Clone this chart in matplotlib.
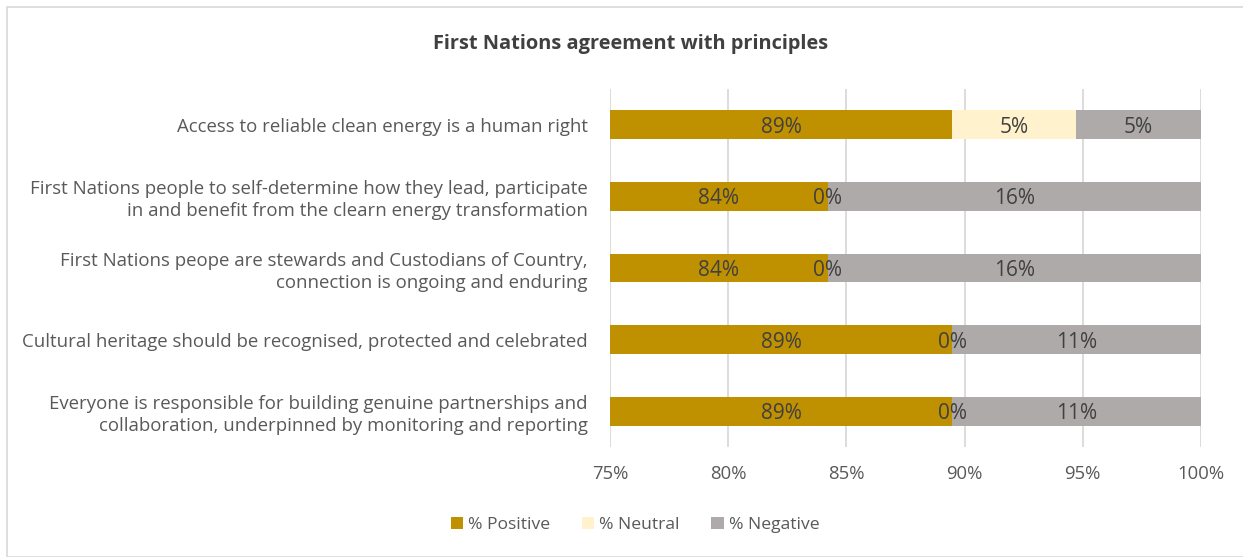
import matplotlib.pyplot as plt
import numpy as np
from matplotlib.patches import Rectangle

categories = [
    "Access to reliable clean energy is a human right",
    "First Nations people to self-determine how they lead, participate\nin and benefit from the clearn energy transformation",
    "First Nations peope are stewards and Custodians of Country,\nconnection is ongoing and enduring",
    "Cultural heritage should be recognised, protected and celebrated",
    "Everyone is responsible for building genuine partnerships and\ncollaboration, underpinned by monitoring and reporting",
]
positive = [89.47, 84.21, 84.21, 89.47, 89.47]
neutral = [5.26, 0.0, 0.0, 0.0, 0.0]
negative = [5.26, 15.79, 15.79, 10.53, 10.53]
xticks = [75, 80, 85, 90, 95, 100]

c_pos = "#BF9000"
c_neu = "#FFF2CC"
c_neg = "#AEAAAA"
txt = "#404040"

plt.rcParams['font.family'] = ['Open Sans', 'DejaVu Sans']

fig = plt.figure(figsize=(12.43, 5.57), dpi=100)
ax = fig.add_axes([610 / 1243, 1 - 447 / 557, 591 / 1243, 358 / 557])

y = np.arange(len(categories))
pos = np.array(positive)
neu = np.array(neutral)
neg = np.array(negative)
h = 0.4

ax.barh(y, pos, height=h, color=c_pos, label="% Positive", zorder=2)
ax.barh(y, neu, left=pos, height=h, color=c_neu, label="% Neutral", zorder=2)
ax.barh(y, neg, left=pos + neu, height=h, color=c_neg, label="% Negative", zorder=2)

# data labels, centred on the visible part of each segment
for i in range(len(categories)):
    ax.text((75 + pos[i]) / 2, y[i], f"{pos[i]:.0f}%", ha="center", va="center_baseline",
            fontsize=15, color=txt, zorder=3)
    ax.text(pos[i] + neu[i] / 2, y[i], f"{neu[i]:.0f}%", ha="center", va="center_baseline",
            fontsize=15, color=txt, zorder=3)
    ax.text(pos[i] + neu[i] + neg[i] / 2, y[i], f"{neg[i]:.0f}%", ha="center", va="center_baseline",
            fontsize=15, color=txt, zorder=3)

ax.set_xlim(75, 100)
ax.set_ylim(len(categories) - 0.5, -0.5)
ax.set_xticks(xticks)
ax.set_xticklabels([f"{t}%" for t in xticks], fontsize=13.3)
ax.set_yticks(y)
ax.set_yticklabels(categories, ha="right", multialignment="right",
                   fontsize=13.4, linespacing=1.25)
ax.tick_params(axis="both", length=0, labelcolor="#595959")
ax.tick_params(axis="x", pad=13)
ax.tick_params(axis="y", pad=16)
ax.grid(axis="x", color="#D9D9D9", linewidth=1.3, zorder=0)
for s in ax.spines.values():
    s.set_visible(False)

fig.text(631 / 1243, 1 - 44 / 557, "First Nations agreement with principles",
         ha="center", va="center", fontsize=14.4, fontweight="bold", color="#404040")

fig.legend(loc="center", bbox_to_anchor=(635 / 1243, 1 - 525 / 557), ncol=3,
           frameon=False, fontsize=12.6, handlelength=0.7, handleheight=0.7,
           handletextpad=0.3, columnspacing=1.8, labelcolor="#595959")

fig.patches.append(Rectangle((7 / 1243, 0), 1.0, 1 - 7 / 557, transform=fig.transFigure,
                             fill=False, edgecolor="#D9D9D9", linewidth=1.2))

fig.savefig("out.png", dpi=100)
